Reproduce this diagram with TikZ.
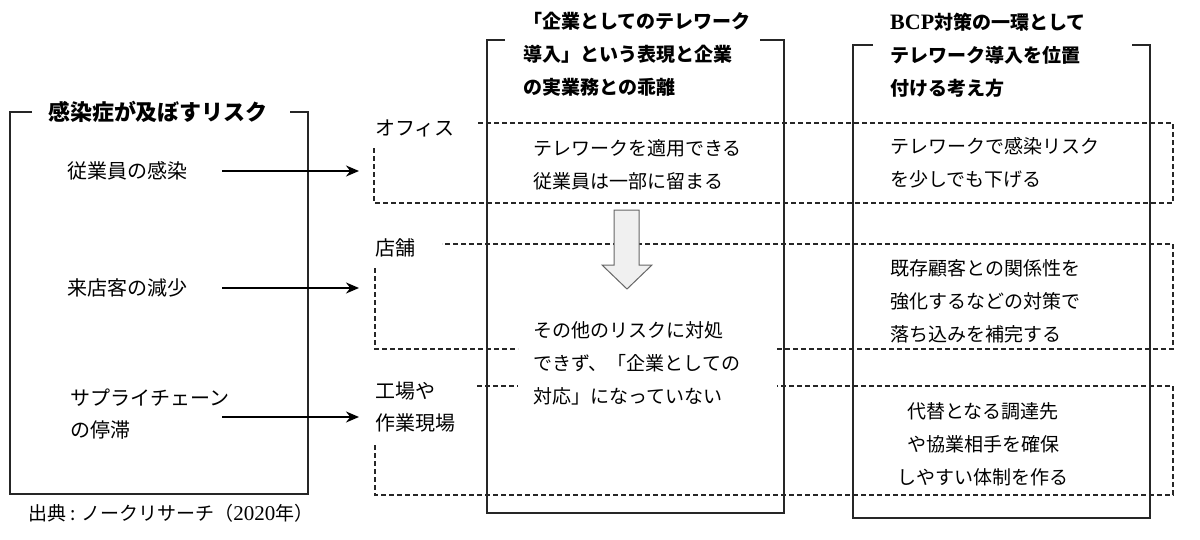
\documentclass[tikz,border=0pt]{standalone}
\usepackage{fontspec}
\setmainfont{Noto Sans CJK JP}
\newfontfamily\tnr{Liberation Serif}
\usetikzlibrary{arrows.meta}
\begin{document}
\begin{tikzpicture}[x=1pt,y=-1pt,
  frame/.style={line width=1.5pt,black!85},
  dashline/.style={line width=1.1pt,dash pattern=on 5pt off 3pt,black!85},
  txt/.style={inner sep=0pt,anchor=west,align=left,font=\fontsize{19}{33}\selectfont},
  item/.style={inner sep=0pt,anchor=west,align=left,font=\fontsize{20}{32}\selectfont},
  ttl/.style={inner sep=0pt,anchor=west,align=left,font=\bfseries\fontsize{19}{33}\selectfont},
  arr/.style={line width=2pt,-{Stealth[length=13pt,width=11pt]}}]
\useasboundingbox (0,0) rectangle (1200,539);

% left frame
\node[inner sep=0pt,font=\bfseries\fontsize{22}{26}\selectfont] (lt) at (158,112) {感染症が及ぼすリスク};
\draw[frame] (32,112) -- (10,112) -- (10,494) -- (308,494) -- (308,112) -- (290,112);

% middle frame
\draw[frame] (505,40) -- (487,40) -- (487,513) -- (784,513) -- (784,40) -- (760,40);
\node[ttl] (mt) at (523,54) {「企業としてのテレワーク\\導入」という表現と企業\\の実業務との乖離};

% right frame
\draw[frame] (873,45) -- (853,45) -- (853,518) -- (1150,518) -- (1150,45) -- (1132,45);
\node[ttl] (rt) at (890,55) {{\tnr\fontsize{22}{33}\selectfont BCP}対策の一環として\\テレワーク導入を位置\\付ける考え方};

% dashed bands
\draw[dashline] (374,148) -- (374,203) -- (1173,203) -- (1173,123) -- (477,123);
\draw[dashline] (375,268) -- (375,349) -- (518,349);
\draw[dashline] (777,349) -- (1173,349) -- (1173,244) -- (442,244);
\draw[dashline] (375,445) -- (375,495) -- (1173,495) -- (1173,386) -- (777,386);
\draw[dashline] (477,386) -- (518,386);

% band labels
\node[item] (l1) at (375,128) {オフィス};
\node[item] (l2) at (375,248) {店舗};
\node[item] (l3) at (375,407) {工場や\\作業現場};

% left items and arrows
\node[item] (i1) at (67,171) {従業員の感染};
\node[item] (i2) at (67,288) {来店客の減少};
\node[item] (i3) at (70,414) {サプライチェーン\\の停滞};
\coordinate (s1) at (222,171); \coordinate (e1) at (359,171);
\coordinate (s2) at (222,288); \coordinate (e2) at (359,288);
\coordinate (s3) at (222,417); \coordinate (e3) at (359,417);
\draw[arr] (s1) -- (e1);
\draw[arr] (s2) -- (e2);
\draw[arr] (s3) -- (e3);

% middle texts
\node[txt] (m1) at (533,165) {テレワークを適用できる\\従業員は一部に留まる};
\node[txt] (m2) at (533,363) {その他のリスクに対処\\できず、「企業としての\\対応」になっていない};

% block arrow
\draw[fill=black!6,draw=black!60,line width=1pt]
  (614,210) -- (639,210) -- (639,265) -- (652,265) -- (627,289) -- (602,265) -- (614,265) -- cycle;

% right texts
\node[txt] (r1) at (890,163) {テレワークで感染リスク\\を少しでも下げる};
\node[txt] (r2) at (890,301) {既存顧客との関係性を\\強化するなどの対策で\\落ち込みを補完する};
\node[txt,anchor=center,align=center] (r3) at (983,444) {代替となる調達先\\や協業相手を確保\\しやすい体制を作る};

% source
\node[inner sep=0pt,anchor=west,font=\fontsize{19}{22}\selectfont] (src) at (28,513) {出典 : ノークリサーチ（{\tnr\fontsize{21}{22}\selectfont 2020}年）};
\end{tikzpicture}
\end{document}
